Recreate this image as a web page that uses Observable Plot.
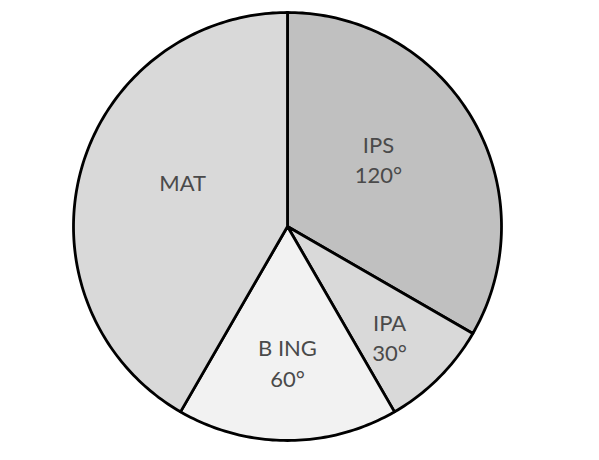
<!DOCTYPE html>
<html>
<head>
<meta charset="utf-8">
<script src="https://cdn.jsdelivr.net/npm/d3@7"></script>
<script src="https://cdn.jsdelivr.net/npm/@observablehq/plot@0.6"></script>
<style>
  html, body { margin: 0; padding: 0; background: #ffffff; }
  #chart svg { display: block; }
</style>
</head>
<body>
<div id="chart"></div>
<script>
// Data
const subjects = ["IPS", "IPA", "B ING", "MAT"];
const degrees = [120, 30, 60, 150];
const labels = ["IPS\n120°", "IPA\n30°", "B ING\n60°", "MAT"];
const fills = ["#c0c0c0", "#d9d9d9", "#f2f2f2", "#d9d9d9"];

// Label placement (layout, in unit-circle coordinates)
const labelPos = [[0.425, 0.32], [0.477, -0.512], [0, -0.632], [-0.49, 0.21]];

const pie = d3.pie().sort(null).value(d => d.value).startAngle(0).endAngle(2 * Math.PI);
const arcs = pie(subjects.map((s, i) => ({name: s, value: degrees[i]})));

// Build slice outlines from the pie angles
const pts = [];
arcs.forEach(a => {
  const name = a.data.name;
  pts.push({name, x: 0, y: 0});
  const steps = Math.max(8, Math.ceil((a.endAngle - a.startAngle) / (Math.PI / 180)));
  for (let k = 0; k <= steps; k++) {
    const t = a.startAngle + (a.endAngle - a.startAngle) * k / steps;
    pts.push({name, x: Math.sin(t), y: Math.cos(t)});
  }
  pts.push({name, x: 0, y: 0});
});

const labelData = subjects.map((s, i) => ({name: s, text: labels[i], x: labelPos[i][0], y: labelPos[i][1]}));

const chart = Plot.plot({
  width: 599,
  height: 460,
  marginLeft: 73,
  marginRight: 98,
  marginTop: 12,
  marginBottom: 20,
  style: {background: "#ffffff", fontFamily: "Lato, 'Open Sans', sans-serif"},
  x: {domain: [-1, 1], axis: null},
  y: {domain: [-1, 1], axis: null},
  color: {domain: subjects, range: fills},
  marks: [
    Plot.line(pts, {x: "x", y: "y", z: "name", fill: "name", stroke: "#000000", strokeWidth: 2.8, strokeLinejoin: "round", curve: "linear"}),
    Plot.text(labelData, {x: "x", y: "y", text: "text", fill: "#4a4a4a", fontSize: 22, lineHeight: 1.38, textAnchor: "middle"})
  ]
});
document.getElementById("chart").appendChild(chart);
</script>
</body>
</html>
